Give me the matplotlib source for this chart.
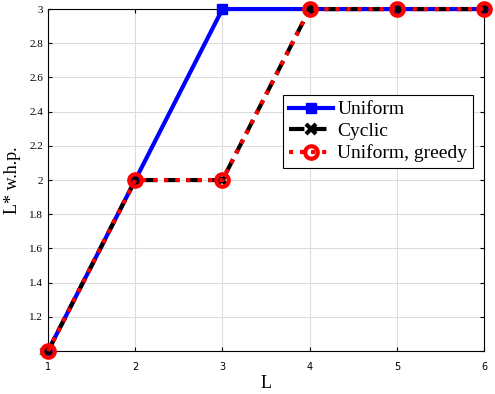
import matplotlib.pyplot as plt
import numpy as np

L = [1, 2, 3, 4, 5, 6]
uniform = [1, 2, 3, 3, 3, 3]
cyclic = [1, 2, 2, 3, 3, 3]
greedy = [1, 2, 2, 3, 3, 3]
ytick_vals = np.arange(1, 3.01, 0.2)
ytick_labels = ['1', '1.2', '1.4', '1.6', '1.8', '2', '2.2', '2.4', '2.6', '2.8', '3']

fig = plt.figure(figsize=(4.95, 3.94), dpi=100)
ax = fig.add_axes([0.097, 0.109, 0.881, 0.868])

ax.plot(L, uniform, '-s', color='blue', lw=3, ms=7, label='Uniform', zorder=3, clip_on=False)
ax.plot(L, cyclic, '--x', color='black', lw=3, ms=7, mew=3, label='Cyclic', zorder=4, clip_on=False)
ax.plot(L, greedy, ':o', color='red', lw=3, ms=9, mew=3, mfc='none', label='Uniform, greedy',
        zorder=5, clip_on=False)

ax.set_xlim(1, 6)
ax.set_ylim(1, 3)
ax.set_xticks(L)
ax.set_yticks(ytick_vals)
ax.set_yticklabels(ytick_labels, fontfamily='Liberation Serif', fontsize=8)
ax.tick_params(axis='x', labelsize=7, pad=8)
ax.tick_params(direction='in', length=3, top=True, right=True)
ax.grid(True, color='#dddddd', lw=0.8)
for s in ax.spines.values():
    s.set_linewidth(0.8)

ax.set_xlabel('L', fontfamily='Liberation Serif', fontsize=13, labelpad=2)
ax.set_ylabel('L* w.h.p.', fontfamily='Liberation Serif', fontsize=13, labelpad=6)

leg = ax.legend(loc='upper right', bbox_to_anchor=(0.975, 0.749), prop={'family': 'Liberation Serif', 'size': 14},
                fancybox=False, edgecolor='black', framealpha=1, handlelength=2.3,
                handletextpad=0.2, borderpad=0.3, labelspacing=0.22, borderaxespad=0)
leg.get_frame().set_linewidth(0.8)

fig.savefig('out.png', dpi=100)
